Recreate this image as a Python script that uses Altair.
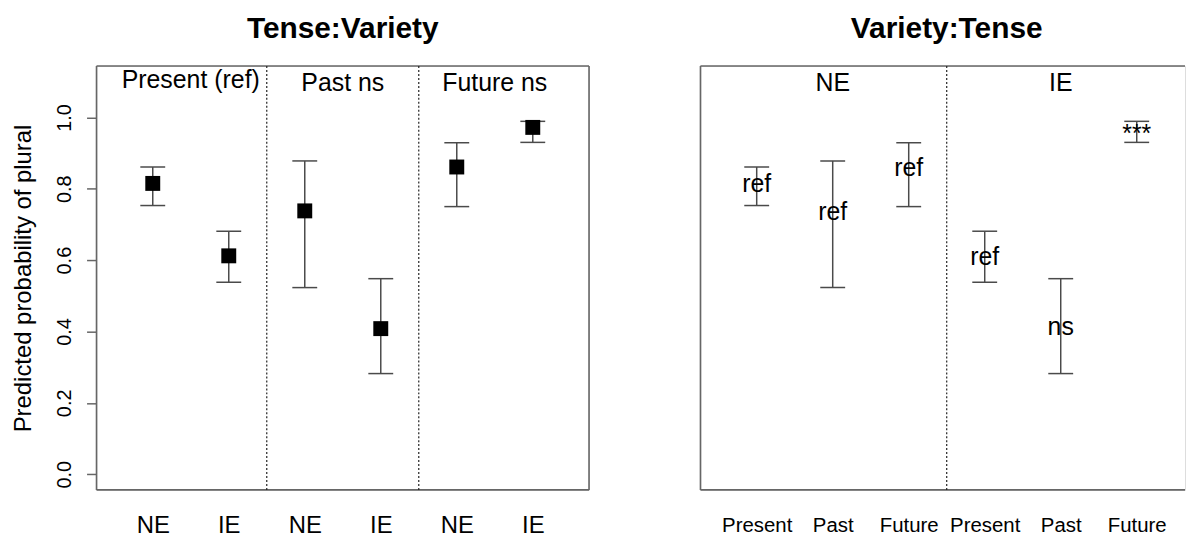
import json
import altair as alt
import pandas as pd

# ---------------- data ----------------
tense = ["Present", "Present", "Past", "Past", "Future", "Future"]
variety = ["NE", "IE", "NE", "IE", "NE", "IE"]
estimate = [0.815, 0.612, 0.738, 0.408, 0.861, 0.972]
lower = [0.753, 0.538, 0.523, 0.282, 0.750, 0.930]
upper = [0.861, 0.681, 0.878, 0.548, 0.929, 0.989]

tense_order = ["Present", "Past", "Future"]
variety_order = ["NE", "IE"]
tense_headers = ["Present (ref)", "Past ns", "Future ns"]
variety_headers = ["NE", "IE"]
# significance labels in the right panel's order (variety, then tense)
right_sig = ["ref", "ref", "ref", "ref", "ns", "***"]

y_ticks = [0.0, 0.2, 0.4, 0.6, 0.8, 1.0]
header_y = 1.1
y_title = "Predicted probability of plural"
left_title = "Tense:Variety"
right_title = "Variety:Tense"

# ---------------- layout / style ----------------
FONT = "Liberation Sans"
GRAY = "#666666"
BAR = "#4a4a4a"
YLO, YHI = -0.044, 1.144
XLO, XHI = 0.26, 6.74
H = 426
WL = 495
WR = 487
XHI_R = XLO + WR * (XHI - XLO) / WL
XMID = (XLO + XHI) / 2
UNIT_PER_PX = (YHI - YLO) / H

base = pd.DataFrame({"tense": tense, "variety": variety, "estimate": estimate,
                     "lower": lower, "upper": upper})

ASC = set("bdfhklt") | set("ABCDEFGHIJKLMNOPQRSTUVWXYZ")
DESC = set("gjpqy")


def ink_offset(s, size):
    """pixel distance from the ink centre down to the baseline"""
    tops, bots = [], []
    for ch in s:
        if ch == " ":
            continue
        if ch == "*":
            tops.append(0.716); bots.append(0.43)
        elif ch in "()":
            tops.append(0.73); bots.append(-0.21)
        else:
            tops.append(0.73 if ch in ASC else 0.52)
            bots.append(-0.21 if ch in DESC else 0.0)
    return (max(tops) + min(bots)) / 2 * size


left_df = base.copy()
left_df["pos"] = range(1, len(left_df) + 1)
left_df["label"] = left_df["variety"]
left_df["key"] = left_df["tense"]

right_df = base.assign(vi=base["variety"].map(variety_order.index),
                       ti=base["tense"].map(tense_order.index))
right_df = right_df.sort_values(["vi", "ti"]).reset_index(drop=True)
right_df["pos"] = range(1, len(right_df) + 1)
right_df["label"] = right_df["tense"]
right_df["key"] = right_df["variety"]
right_df["sig"] = right_sig
# baseline position so that the ink of each label is centred on the estimate
right_df["ty"] = [e - ink_offset(s, 25) * UNIT_PER_PX
                  for e, s in zip(right_df["estimate"], right_sig)]


def separators(df):
    out = []
    for i in range(len(df) - 1):
        if df["key"].iloc[i] != df["key"].iloc[i + 1]:
            out.append((df["pos"].iloc[i] + df["pos"].iloc[i + 1]) / 2)
    return pd.DataFrame({"sep": out})


def headers(df, order, texts):
    rows = []
    for k, t in zip(order, texts):
        rows.append({"hx": df.loc[df["key"] == k, "pos"].mean(),
                     "hy": header_y - ink_offset(t, 25) * UNIT_PER_PX,
                     "text": t})
    return pd.DataFrame(rows)


def box(width, sides):
    one = alt.Chart(alt.Data(values=[{"b": 1}]))
    rules = []
    style = dict(color=GRAY, strokeWidth=1.6)
    if "top" in sides:
        rules.append(one.mark_rule(**style).encode(x=alt.value(0), x2=alt.value(width), y=alt.value(0)))
    if "bottom" in sides:
        rules.append(one.mark_rule(**style).encode(x=alt.value(0), x2=alt.value(width), y=alt.value(H)))
    if "left" in sides:
        rules.append(one.mark_rule(**style).encode(x=alt.value(0), y=alt.value(0), y2=alt.value(H)))
    if "right" in sides:
        rules.append(one.mark_rule(**style).encode(x=alt.value(width), y=alt.value(0), y2=alt.value(H)))
    return rules


def panel(df, heads, width, xhi, title, label_size, with_points, with_yaxis, sides):
    xs = alt.Scale(domain=[XLO, xhi], nice=False, zero=False)
    ys = alt.Scale(domain=[YLO, YHI], nice=False, zero=False)
    labels_js = json.dumps(list(df["label"]))
    x_axis = alt.Axis(values=[int(p) for p in df["pos"]],
                      labelExpr=f"{labels_js}[round(datum.value) - 1]",
                      ticks=False, domain=False, grid=False, title=None,
                      labelFont=FONT, labelFontSize=label_size, labelColor="black",
                      labelPadding=36, labelBaseline="middle", labelAngle=0,
                      labelFlush=False, labelOverlap=False)
    if with_yaxis:
        y_axis = alt.Axis(values=y_ticks, format=".1f", labelAngle=270, labelAlign="center",
                          labelBaseline="middle", labelFont=FONT, labelFontSize=20,
                          labelColor="black", labelPadding=22, tickSize=10, tickColor=GRAY,
                          tickWidth=1.5, domain=False, grid=False, title=y_title,
                          titleFont=FONT, titleFontSize=24, titleFontWeight="normal",
                          titleColor="black", titleAngle=270, titleX=-73, titleY=H / 2,
                          titleAlign="center", titleBaseline="middle")
    else:
        y_axis = None

    src = alt.Chart(df)
    seps = alt.Chart(separators(df)).mark_rule(
        color="#222222", strokeWidth=1.2, strokeDash=[2, 2]
    ).encode(x=alt.X("sep:Q", scale=xs))

    bars = src.mark_rule(color=BAR, strokeWidth=1.5).encode(
        x=alt.X("pos:Q", scale=xs, axis=x_axis),
        y=alt.Y("lower:Q", scale=ys, axis=y_axis),
        y2="upper:Q",
    )
    caps = src.transform_fold(["lower", "upper"], as_=["end", "val"]).mark_tick(
        orient="horizontal", size=25, thickness=1.5, color=BAR, opacity=1
    ).encode(x=alt.X("pos:Q", scale=xs), y=alt.Y("val:Q", scale=ys))

    head = alt.Chart(heads).mark_text(
        font=FONT, fontSize=25, color="black", baseline="alphabetic"
    ).encode(x=alt.X("hx:Q", scale=xs), y=alt.Y("hy:Q", scale=ys), text="text:N")

    ttl = alt.Chart(alt.Data(values=[{"t": title}])).mark_text(
        font=FONT, fontSize=30, fontWeight="bold", color="black", baseline="alphabetic"
    ).encode(x=alt.datum(XMID, scale=xs), y=alt.value(-28), text="t:N")

    layers = box(width, sides) + [seps, bars, caps, head, ttl]
    if with_points:
        layers.append(src.mark_square(size=225, color="black", opacity=1).encode(
            x=alt.X("pos:Q", scale=xs), y=alt.Y("estimate:Q", scale=ys)))
    else:
        layers.append(src.mark_text(font=FONT, fontSize=25, color="black",
                                    baseline="alphabetic").encode(
            x=alt.X("pos:Q", scale=xs), y=alt.Y("ty:Q", scale=ys), text="sig:N"))
    return alt.layer(*layers).properties(width=width, height=H)


left = panel(left_df, headers(left_df, tense_order, tense_headers), WL, XHI, left_title,
             24, True, True, ["top", "bottom", "left", "right"])
right = panel(right_df, headers(right_df, variety_order, variety_headers), WR, XHI_R,
              right_title, 20.5, False, False, ["top", "bottom", "left"])

chart = alt.hconcat(left, right, spacing=108).resolve_scale(
    x="independent", y="independent"
).properties(
    padding={"left": 11, "top": 12, "right": 0, "bottom": 0}
).configure_view(stroke="transparent").configure(background="white")

chart.save("out.html", embed_options={"renderer": "svg", "actions": False})
